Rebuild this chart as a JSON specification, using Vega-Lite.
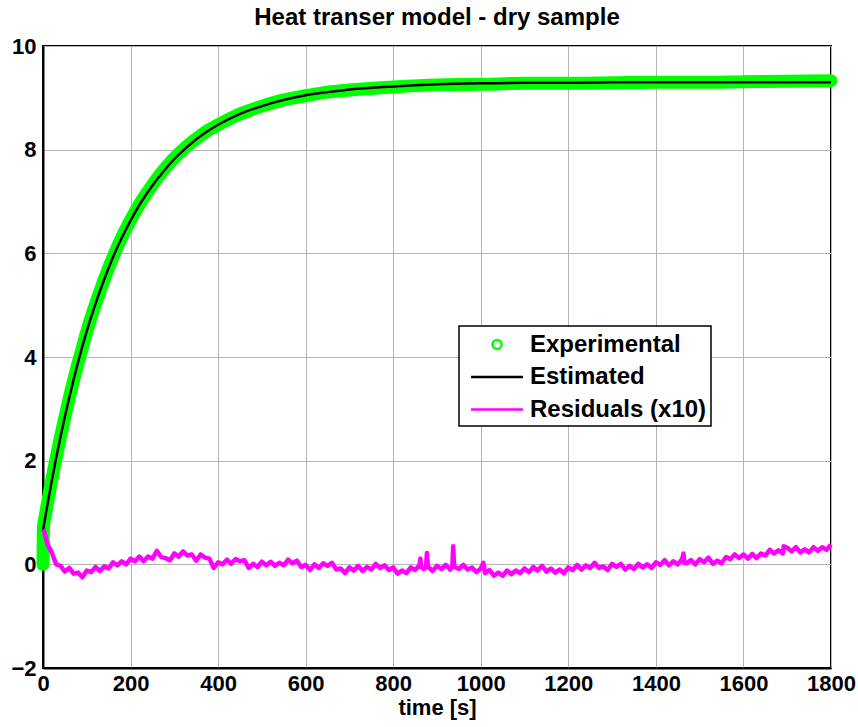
{
  "$schema": "https://vega.github.io/schema/vega-lite/v6.json",
  "width": 788,
  "height": 622,
  "autosize": {"type": "none"},
  "padding": {"left": 43, "top": 46, "right": 27, "bottom": 59},
  "background": "white",
  "title": {
    "text": "Heat transer model - dry sample",
    "font": "Liberation Sans",
    "fontSize": 24,
    "fontWeight": "bold",
    "color": "black",
    "anchor": "middle",
    "offset": 5
  },
  "datasets": {
    "curve": [
      {"t": 0, "exp": 0.0, "est": 0.65},
      {"t": 1, "exp": 0.72, "est": 0.70},
      {"t": 5, "exp": 0.93, "est": 0.90},
      {"t": 10, "exp": 1.17, "est": 1.14},
      {"t": 15, "exp": 1.40, "est": 1.38},
      {"t": 20, "exp": 1.63, "est": 1.61},
      {"t": 30, "exp": 2.05, "est": 2.05},
      {"t": 40, "exp": 2.46, "est": 2.46},
      {"t": 50, "exp": 2.84, "est": 2.85},
      {"t": 60, "exp": 3.21, "est": 3.22},
      {"t": 70, "exp": 3.55, "est": 3.57},
      {"t": 80, "exp": 3.88, "est": 3.90},
      {"t": 90, "exp": 4.18, "est": 4.21},
      {"t": 100, "exp": 4.49, "est": 4.50},
      {"t": 120, "exp": 5.02, "est": 5.03},
      {"t": 140, "exp": 5.50, "est": 5.50},
      {"t": 160, "exp": 5.93, "est": 5.93},
      {"t": 180, "exp": 6.31, "est": 6.30},
      {"t": 200, "exp": 6.64, "est": 6.63},
      {"t": 225, "exp": 7.01, "est": 7.00},
      {"t": 250, "exp": 7.32, "est": 7.31},
      {"t": 275, "exp": 7.60, "est": 7.58},
      {"t": 300, "exp": 7.84, "est": 7.82},
      {"t": 325, "exp": 8.04, "est": 8.02},
      {"t": 350, "exp": 8.21, "est": 8.20},
      {"t": 375, "exp": 8.36, "est": 8.35},
      {"t": 400, "exp": 8.48, "est": 8.48},
      {"t": 450, "exp": 8.69, "est": 8.69},
      {"t": 500, "exp": 8.84, "est": 8.84},
      {"t": 550, "exp": 8.96, "est": 8.96},
      {"t": 600, "exp": 9.04, "est": 9.05},
      {"t": 650, "exp": 9.11, "est": 9.11},
      {"t": 700, "exp": 9.15, "est": 9.16},
      {"t": 800, "exp": 9.21, "est": 9.22},
      {"t": 900, "exp": 9.25, "est": 9.26},
      {"t": 1000, "exp": 9.26, "est": 9.28},
      {"t": 1100, "exp": 9.28, "est": 9.29},
      {"t": 1200, "exp": 9.28, "est": 9.29},
      {"t": 1300, "exp": 9.29, "est": 9.30},
      {"t": 1400, "exp": 9.30, "est": 9.30},
      {"t": 1500, "exp": 9.30, "est": 9.30},
      {"t": 1600, "exp": 9.31, "est": 9.30},
      {"t": 1700, "exp": 9.32, "est": 9.30},
      {"t": 1800, "exp": 9.33, "est": 9.30}
    ],
    "resid": [
      {"t": 1, "r": 0.68}, {"t": 3, "r": 0.62}, {"t": 5, "r": 0.55}, {"t": 7, "r": 0.5},
      {"t": 10, "r": 0.39}, {"t": 20, "r": 0.23}, {"t": 30, "r": 0.0}, {"t": 40, "r": -0.03},
      {"t": 50, "r": -0.14}, {"t": 60, "r": -0.07}, {"t": 70, "r": -0.18}, {"t": 80, "r": -0.16},
      {"t": 90, "r": -0.25}, {"t": 100, "r": -0.12}, {"t": 110, "r": -0.15}, {"t": 120, "r": -0.05},
      {"t": 130, "r": -0.13}, {"t": 140, "r": -0.04}, {"t": 150, "r": -0.08}, {"t": 160, "r": 0.04},
      {"t": 170, "r": -0.02}, {"t": 180, "r": 0.06}, {"t": 190, "r": 0.0}, {"t": 200, "r": 0.11},
      {"t": 210, "r": 0.06}, {"t": 220, "r": 0.15}, {"t": 230, "r": 0.06}, {"t": 240, "r": 0.15},
      {"t": 250, "r": 0.11}, {"t": 260, "r": 0.26}, {"t": 270, "r": 0.14}, {"t": 280, "r": 0.12},
      {"t": 290, "r": 0.08}, {"t": 300, "r": 0.21}, {"t": 310, "r": 0.15}, {"t": 320, "r": 0.25},
      {"t": 330, "r": 0.17}, {"t": 340, "r": 0.19}, {"t": 350, "r": 0.07}, {"t": 360, "r": 0.19},
      {"t": 370, "r": 0.13}, {"t": 380, "r": 0.11}, {"t": 390, "r": -0.07}, {"t": 400, "r": 0.04},
      {"t": 410, "r": 0.0}, {"t": 420, "r": 0.09}, {"t": 430, "r": 0.01}, {"t": 440, "r": 0.1},
      {"t": 450, "r": 0.06}, {"t": 460, "r": 0.08}, {"t": 470, "r": -0.07}, {"t": 480, "r": 0.01},
      {"t": 490, "r": -0.05}, {"t": 500, "r": 0.05}, {"t": 510, "r": -0.02}, {"t": 520, "r": 0.05},
      {"t": 530, "r": -0.03}, {"t": 540, "r": 0.03}, {"t": 550, "r": -0.02}, {"t": 560, "r": 0.09},
      {"t": 570, "r": 0.02}, {"t": 580, "r": 0.07}, {"t": 590, "r": -0.05}, {"t": 600, "r": -0.01},
      {"t": 610, "r": -0.11}, {"t": 620, "r": 0.0}, {"t": 630, "r": -0.07}, {"t": 640, "r": 0.02},
      {"t": 650, "r": -0.03}, {"t": 660, "r": 0.03}, {"t": 670, "r": -0.1}, {"t": 680, "r": -0.08},
      {"t": 690, "r": -0.17}, {"t": 700, "r": -0.06}, {"t": 710, "r": -0.12}, {"t": 720, "r": -0.03},
      {"t": 730, "r": -0.13}, {"t": 740, "r": -0.05}, {"t": 750, "r": -0.1}, {"t": 760, "r": 0.01},
      {"t": 770, "r": -0.07}, {"t": 780, "r": -0.02}, {"t": 790, "r": -0.11}, {"t": 800, "r": -0.06},
      {"t": 810, "r": -0.18}, {"t": 820, "r": -0.12}, {"t": 830, "r": -0.17}, {"t": 840, "r": -0.06},
      {"t": 850, "r": -0.11}, {"t": 860, "r": -0.02}, {"t": 862, "r": 0.11}, {"t": 864, "r": -0.05},
      {"t": 870, "r": -0.09}, {"t": 875, "r": -0.06}, {"t": 877, "r": 0.22}, {"t": 879, "r": -0.04},
      {"t": 890, "r": -0.13}, {"t": 900, "r": -0.03}, {"t": 910, "r": -0.09}, {"t": 920, "r": -0.01},
      {"t": 930, "r": -0.1}, {"t": 935, "r": -0.05}, {"t": 937, "r": 0.35}, {"t": 939, "r": -0.04},
      {"t": 950, "r": -0.09}, {"t": 960, "r": -0.01}, {"t": 970, "r": -0.1}, {"t": 980, "r": -0.06},
      {"t": 990, "r": -0.15}, {"t": 1000, "r": -0.08}, {"t": 1006, "r": 0.03}, {"t": 1010, "r": -0.17},
      {"t": 1020, "r": -0.11}, {"t": 1030, "r": -0.22}, {"t": 1040, "r": -0.16}, {"t": 1050, "r": -0.22},
      {"t": 1060, "r": -0.12}, {"t": 1070, "r": -0.19}, {"t": 1080, "r": -0.12}, {"t": 1090, "r": -0.17},
      {"t": 1100, "r": -0.08}, {"t": 1110, "r": -0.15}, {"t": 1120, "r": -0.05}, {"t": 1130, "r": -0.12},
      {"t": 1140, "r": -0.03}, {"t": 1150, "r": -0.14}, {"t": 1160, "r": -0.08}, {"t": 1170, "r": -0.16},
      {"t": 1180, "r": -0.1}, {"t": 1190, "r": -0.17}, {"t": 1200, "r": -0.06}, {"t": 1210, "r": -0.11},
      {"t": 1220, "r": -0.01}, {"t": 1230, "r": -0.1}, {"t": 1240, "r": -0.02}, {"t": 1250, "r": -0.07},
      {"t": 1260, "r": 0.03}, {"t": 1270, "r": -0.07}, {"t": 1280, "r": -0.04}, {"t": 1290, "r": -0.11},
      {"t": 1300, "r": 0.01}, {"t": 1310, "r": -0.05}, {"t": 1320, "r": 0.01}, {"t": 1330, "r": -0.1},
      {"t": 1340, "r": -0.03}, {"t": 1350, "r": -0.09}, {"t": 1360, "r": 0.01}, {"t": 1370, "r": -0.06},
      {"t": 1380, "r": 0.0}, {"t": 1390, "r": -0.07}, {"t": 1400, "r": 0.04}, {"t": 1410, "r": -0.01},
      {"t": 1420, "r": 0.08}, {"t": 1430, "r": -0.02}, {"t": 1440, "r": 0.06}, {"t": 1450, "r": 0.0},
      {"t": 1460, "r": 0.1}, {"t": 1463, "r": 0.21}, {"t": 1465, "r": 0.03}, {"t": 1470, "r": 0.02},
      {"t": 1480, "r": 0.08}, {"t": 1490, "r": 0.0}, {"t": 1500, "r": 0.1}, {"t": 1510, "r": 0.04},
      {"t": 1520, "r": 0.13}, {"t": 1530, "r": 0.01}, {"t": 1540, "r": 0.07}, {"t": 1550, "r": 0.02},
      {"t": 1560, "r": 0.14}, {"t": 1570, "r": 0.1}, {"t": 1580, "r": 0.19}, {"t": 1590, "r": 0.12},
      {"t": 1600, "r": 0.19}, {"t": 1610, "r": 0.11}, {"t": 1620, "r": 0.2}, {"t": 1630, "r": 0.12},
      {"t": 1640, "r": 0.21}, {"t": 1650, "r": 0.17}, {"t": 1660, "r": 0.28}, {"t": 1670, "r": 0.21},
      {"t": 1680, "r": 0.27}, {"t": 1690, "r": 0.21}, {"t": 1692, "r": 0.35}, {"t": 1700, "r": 0.32},
      {"t": 1710, "r": 0.25}, {"t": 1720, "r": 0.33}, {"t": 1730, "r": 0.23}, {"t": 1740, "r": 0.29},
      {"t": 1750, "r": 0.23}, {"t": 1760, "r": 0.33}, {"t": 1770, "r": 0.26}, {"t": 1780, "r": 0.33},
      {"t": 1790, "r": 0.28}, {"t": 1800, "r": 0.38}
    ]
  },
  "layer": [
    {
      "data": {"name": "curve"},
      "mark": {"type": "line", "strokeWidth": 13, "strokeCap": "round", "strokeJoin": "round", "interpolate": "monotone"},
      "encoding": {
        "x": {"field": "t", "type": "quantitative", "scale": {"domain": [0, 1800], "nice": false, "zero": false},
              "axis": {"values": [0, 200, 400, 600, 800, 1000, 1200, 1400, 1600, 1800], "format": "d", "title": "time [s]", "labelPadding": 5, "titlePadding": 3, "labelFlush": false, "labelOverlap": false}},
        "y": {"field": "exp", "type": "quantitative", "scale": {"domain": [-2, 10], "nice": false, "zero": false},
              "axis": {"values": [-2, 0, 2, 4, 6, 8, 10], "format": "d", "title": null, "labelPadding": 7}},
        "color": {"datum": "Experimental", "type": "nominal",
          "scale": {"domain": ["Experimental", "Estimated", "Residuals (x10)"], "range": ["#00ff00", "#000000", "#ff00ff"]},
          "legend": {
            "title": null,
            "orient": "none",
            "legendX": 416,
            "legendY": 280,
            "symbolType": "stroke",
            "symbolSize": 676,
            "symbolStrokeWidth": 2.5,
            "encode": {
              "symbols": {
                "update": {
                  "shape": {"signal": "datum.value === 'Experimental' ? 'M1.85,0A0.35,0.35,0,1,1,1.15,0A0.35,0.35,0,1,1,1.85,0Z' : 'M-0.5,0H3.5'"},
                  "fill": {"value": "transparent"},
                  "opacity": {"value": 1}
                }
              }
            }
          }
        }
      }
    },
    {
      "data": {"name": "curve"},
      "mark": {"type": "line", "strokeWidth": 2.5, "interpolate": "monotone"},
      "encoding": {
        "x": {"field": "t", "type": "quantitative"},
        "y": {"field": "est", "type": "quantitative"},
        "color": {"datum": "Estimated", "type": "nominal"}
      }
    },
    {
      "data": {"name": "resid"},
      "mark": {"type": "line", "strokeWidth": 4.5, "strokeJoin": "round"},
      "encoding": {
        "x": {"field": "t", "type": "quantitative"},
        "y": {"field": "r", "type": "quantitative"},
        "color": {"datum": "Residuals (x10)", "type": "nominal"}
      }
    }
  ],
  "config": {
    "view": {"stroke": "black", "strokeWidth": 2},
    "axis": {
      "labelFont": "Liberation Sans",
      "labelFontWeight": "bold",
      "labelFontSize": 22,
      "labelColor": "black",
      "titleFont": "Liberation Sans",
      "titleFontWeight": "bold",
      "titleFontSize": 22,
      "titleColor": "black",
      "grid": true,
      "gridColor": "#b4b4b4",
      "gridWidth": 1,
      "domainColor": "black",
      "domainWidth": 2,
      "ticks": false
    },
    "legend": {
      "labelFont": "Liberation Sans",
      "labelFontWeight": "bold",
      "labelFontSize": 24,
      "labelColor": "black",
      "labelLimit": 400,
      "labelOffset": 38,
      "padding": 4,
      "rowPadding": 5.5,
      "strokeColor": "black",
      "strokeWidth": 1.5,
      "fillColor": "white",
      "cornerRadius": 0
    }
  }
}
